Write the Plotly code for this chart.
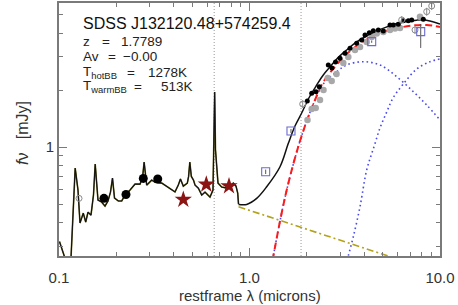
import plotly.graph_objects as go
import math

# ---------------- data ----------------
spec_wave = [0.1006, 0.1037, 0.1075, 0.1156, 0.1199, 0.1216, 0.1258, 0.1289, 0.1341, 0.1381,
             0.1420, 0.1472, 0.1517, 0.1549, 0.1602, 0.1676, 0.1744, 0.1808, 0.1863, 0.1909,
             0.1956, 0.2048, 0.2134, 0.2221, 0.2359, 0.2506, 0.2662, 0.2744, 0.2798, 0.2886,
             0.3067, 0.3192, 0.3461, 0.3748, 0.4064, 0.4229, 0.4340, 0.4493, 0.4586, 0.4716,
             0.4790, 0.4861, 0.4950, 0.5082, 0.5176, 0.5386, 0.5613, 0.5841, 0.6203, 0.6432,
             0.6500, 0.6563, 0.6630, 0.6833, 0.7146, 0.7591, 0.7900, 0.8222, 0.8494, 0.8672,
             0.8757]
spec_flux = [0.317, 0.286, 0.259, 0.259, 0.525, 0.775, 0.593, 0.397, 0.448, 0.402,
             0.453, 0.437, 0.558, 0.813, 0.525, 0.512, 0.488, 0.519, 0.578, 0.686,
             0.538, 0.519, 0.519, 0.558, 0.593, 0.637, 0.637, 0.686, 0.833, 0.630,
             0.669, 0.653, 0.645, 0.615, 0.580, 0.630, 0.678, 0.622, 0.630, 0.645,
             0.700, 0.833, 0.700, 0.669, 0.630, 0.607, 0.558, 0.578, 0.544, 0.593,
             1.089, 1.952, 0.964, 0.645, 0.615, 0.607, 0.622, 0.645, 0.622, 0.571,
             0.500]

model_wave = [0.8757, 0.9667, 1.091, 1.231, 1.446, 1.599, 1.733, 1.879, 2.036, 2.254, 2.440,
              2.646, 2.870, 3.237, 3.652, 4.123, 4.653, 5.252, 5.926, 6.687, 7.547, 8.343,
              9.078, 10.0]
model_flux = [0.498, 0.498, 0.536, 0.617, 0.787, 1.046, 1.291, 1.512, 1.793, 2.126, 2.401,
              2.646, 2.917, 3.254, 3.587, 3.858, 4.101, 4.305, 4.493, 4.603, 4.676, 4.688,
              4.603, 4.465]

pl_wave = [0.8757, 6.0]
pl_flux = [0.484, 0.256]

tot_wave = [1.321, 1.334, 1.446, 1.568, 1.698, 1.841, 1.997, 2.163, 2.440, 2.811, 3.237,
            3.958, 4.842, 5.926, 7.242, 8.516, 10.0]
tot_flux = [0.253, 0.266, 0.4065, 0.593, 0.813, 1.076, 1.372, 1.687, 2.205, 2.656, 3.099,
            3.600, 3.987, 4.238, 4.384, 4.411, 4.305]

hot_wave = [1.321, 1.334, 1.446, 1.568, 1.698, 1.841, 1.997, 2.163, 2.440, 2.870, 3.237,
            3.958, 4.842, 5.926, 7.242, 8.516, 10.0]
hot_flux = [0.253, 0.266, 0.4065, 0.593, 0.813, 1.076, 1.372, 1.687, 2.151, 2.499, 2.712,
            2.822, 2.712, 2.352, 1.960, 1.667, 1.389]

warm_wave = [3.269, 3.301, 3.507, 3.803, 4.123, 4.503, 4.842, 5.252, 5.667, 6.417, 7.547,
             8.861, 10.0]
warm_flux = [0.253, 0.266, 0.336, 0.484, 0.756, 1.004, 1.260, 1.531, 1.815, 2.151, 2.582,
             2.822, 2.917]

phot_wave = [0.1722, 0.2247, 0.2770, 0.3298]
phot_flux = [0.536, 0.562, 0.683, 0.678]

nir_wave = [0.4493, 0.5933, 0.7806]
nir_flux = [0.528, 0.635, 0.622]

irs_wave = [2.011, 2.121, 2.234, 2.325, 2.592, 2.711, 2.828, 2.986, 3.172, 3.370, 3.652,
            3.881, 4.039, 4.255, 4.466, 4.744, 5.041, 5.464, 5.688, 6.041, 6.417, 6.817,
            7.103, 8.172]
irs_flux = [1.750, 1.921, 1.960, 2.082, 2.712, 2.614, 2.812, 2.942, 3.126, 3.322, 3.530,
            3.675, 3.905, 4.016, 4.115, 4.151, 4.100, 4.411, 4.411, 4.448, 4.648, 4.648,
            4.688, 4.728]

gray_wave = [2.016, 2.121, 2.226, 2.345, 2.446, 2.574, 2.701, 2.863, 3.107, 3.301, 3.580,
             3.803, 4.123, 4.380, 4.653, 5.041, 5.464, 5.806, 6.166, 7.852]
gray_flux = [1.389, 1.588, 1.607, 1.771, 2.000, 2.314, 2.232, 2.430, 2.778, 2.988, 3.254,
             3.375, 3.587, 3.812, 3.978, 4.050, 4.151, 4.227, 4.253, 4.879]

oc_wave = [0.1274, 1.902, 6.295, 7.391, 8.516, 9.046]
oc_flux = [0.536, 1.687, 4.688, 4.151, 5.185, 5.557]
oc_err = [0.0, 0.08, 0.22, 0.20, 0.25, 0.27]

sq_wave = [1.216, 1.651, 4.380, 7.920]
sq_flux = [0.7405, 1.215, 3.600, 4.065]
sq_err_plus = [0.02, 0.03, 0.05, 0.40]
sq_err_minus = [0.02, 0.03, 0.05, 0.73]

vline_wave = [0.653, 1.865]

x_major = [0.1, 1.0, 10.0]
x_major_text = ["0.1", "1.0", "10.0"]
x_minor = [0.2, 0.3, 0.4, 0.5, 0.6, 0.7, 0.8, 0.9, 2, 3, 4, 5, 6, 7, 8, 9]
y_major = [1.0]
y_major_text = ["1"]
y_minor = [0.3, 0.4, 0.5, 0.6, 0.7, 0.8, 0.9, 2, 3, 4, 5]

x_range = [0.1, 10.0]
y_range = [0.266, 5.76]

title_text = "SDSS J132120.48+574259.4"
info_names = ["z", "Av", "T<sub>hotBB</sub>", "T<sub>warmBB</sub>"]
info_values = ["1.7789", "\u22120.00", "1278K", "513K"]

# ---------------- figure ----------------
FONT = "Liberation Sans, Arial, sans-serif"
AXC = "#7a7a7a"
fig = go.Figure()

for vx in vline_wave:
    fig.add_trace(go.Scatter(x=[vx, vx], y=y_range, mode="lines",
                             line=dict(color="#b0b0b0", width=1.3, dash="1px,2px"),
                             hoverinfo="skip"))

fig.add_trace(go.Scatter(x=pl_wave, y=pl_flux, mode="lines",
                         line=dict(color="#b3a21a", width=1.6, dash="7px,3px,2px,3px")))
fig.add_trace(go.Scatter(x=hot_wave, y=hot_flux, mode="lines", line_shape="spline",
                         line=dict(color="#4a4af0", width=1.6, dash="1.6px,3px")))
fig.add_trace(go.Scatter(x=warm_wave, y=warm_flux, mode="lines", line_shape="spline",
                         line=dict(color="#4a4af0", width=1.6, dash="1.6px,3px")))
fig.add_trace(go.Scatter(x=tot_wave, y=tot_flux, mode="lines", line_shape="spline",
                         line=dict(color="#ff1a1a", width=2, dash="7px,4px")))

# spectrum (olive halo + black core)
fig.add_trace(go.Scatter(x=spec_wave, y=spec_flux, mode="lines",
                         line=dict(color="#6b6420", width=1.6)))
fig.add_trace(go.Scatter(x=spec_wave, y=spec_flux, mode="lines",
                         line=dict(color="#111111", width=1.1)))
fig.add_trace(go.Scatter(x=model_wave, y=model_flux, mode="lines", line_shape="spline",
                         line=dict(color="#111111", width=1.5)))

fig.add_trace(go.Scatter(x=gray_wave, y=gray_flux, mode="markers",
                         marker=dict(color="#a8a8a8", size=6.5, line=dict(width=0))))
fig.add_trace(go.Scatter(x=irs_wave, y=irs_flux, mode="markers",
                         marker=dict(color="#000000", size=5, line=dict(width=0))))
fig.add_trace(go.Scatter(x=oc_wave, y=oc_flux, mode="markers",
                         marker=dict(symbol="circle-open", color="#8a8a8a", size=6,
                                     line=dict(width=1)),
                         error_y=dict(type="data", array=oc_err, color="#8a8a8a",
                                      thickness=1, width=0)))
fig.add_trace(go.Scatter(x=sq_wave, y=sq_flux, mode="markers",
                         marker=dict(symbol="square-open", color="#6a6ad0", size=8,
                                     line=dict(width=1.1)),
                         error_y=dict(type="data", symmetric=False, array=sq_err_plus,
                                      arrayminus=sq_err_minus, color="#555555",
                                      thickness=1, width=0)))
fig.add_trace(go.Scatter(x=nir_wave, y=nir_flux, mode="markers",
                         marker=dict(symbol="star", color="#8b1414", size=13,
                                     line=dict(width=0))))
fig.add_trace(go.Scatter(x=phot_wave, y=phot_flux, mode="markers",
                         marker=dict(color="#000000", size=9, line=dict(width=0))))

axis_common = dict(
    type="log", showline=True, linecolor=AXC, linewidth=1.6, mirror="allticks",
    ticks="inside", ticklen=8, tickwidth=1.2, tickcolor=AXC,
    showgrid=False, zeroline=False, automargin=False,
    tickfont=dict(family=FONT, size=15, color="#333333"),
)

fig.update_xaxes(**axis_common,
                 range=[math.log10(x_range[0]), math.log10(x_range[1])],
                 tickmode="array", tickvals=x_major, ticktext=x_major_text,
                 ticklabelstandoff=7,
                 minor=dict(tickmode="array", tickvals=x_minor, ticks="inside",
                            ticklen=4, tickwidth=1.2, tickcolor=AXC))
fig.update_yaxes(**axis_common,
                 range=[math.log10(y_range[0]), math.log10(y_range[1])],
                 tickmode="array", tickvals=y_major, ticktext=y_major_text,
                 ticklabelstandoff=0,
                 minor=dict(tickmode="array", tickvals=y_minor, ticks="inside",
                            ticklen=4, tickwidth=1.2, tickcolor=AXC))

# plot area: left 59, right 440, top 3, bottom 256 (pixels)
L, R, T, B = 59, 440, 3, 256
W, H = R - L, B - T


def px(xp):
    return (xp - L) / W


def py(yp):
    return (B - yp) / H


ann = []
ann.append(dict(text=title_text, x=px(82), y=py(24), xanchor="left", yanchor="middle",
                font=dict(family=FONT, size=16, color="#111111")))
name_x = [82, 82, 82, 82]
eq_x = [106, 112, 131, 138]
val_x = [120, 122, 147, 160]
row_y = [41, 56, 72, 87]
for i in range(4):
    f = dict(family=FONT, size=13.5, color="#222222")
    ann.append(dict(text=info_names[i], x=px(name_x[i]), y=py(row_y[i]), xanchor="left",
                    yanchor="middle", font=f))
    ann.append(dict(text="=", x=px(eq_x[i]), y=py(row_y[i]), xanchor="center",
                    yanchor="middle", font=f))
    ann.append(dict(text=info_values[i], x=px(val_x[i]), y=py(row_y[i]), xanchor="left",
                    yanchor="middle", font=f))

ann.append(dict(text="restframe \u03bb (microns)", x=px(249.5), y=py(295), xanchor="center",
                yanchor="middle", font=dict(family=FONT, size=15, color="#333333")))
ann.append(dict(text="<i>f</i>\u03bd\u00a0\u00a0\u00a0[mJy]", x=px(23), y=py(133),
                xanchor="center", yanchor="middle", textangle=-90,
                font=dict(family=FONT, size=16, color="#333333")))
for a in ann:
    a.update(xref="paper", yref="paper", showarrow=False, borderpad=0)

fig.update_layout(
    width=458, height=305,
    margin=dict(l=L, r=458 - R, t=T, b=305 - B, pad=0, autoexpand=False),
    paper_bgcolor="white", plot_bgcolor="white",
    showlegend=False, annotations=ann,
    font=dict(family=FONT),
)

fig.write_html("out.html", config={"displayModeBar": False},
               post_script="document.body.style.margin='0px';"
                           "document.body.style.overflow='hidden';")
